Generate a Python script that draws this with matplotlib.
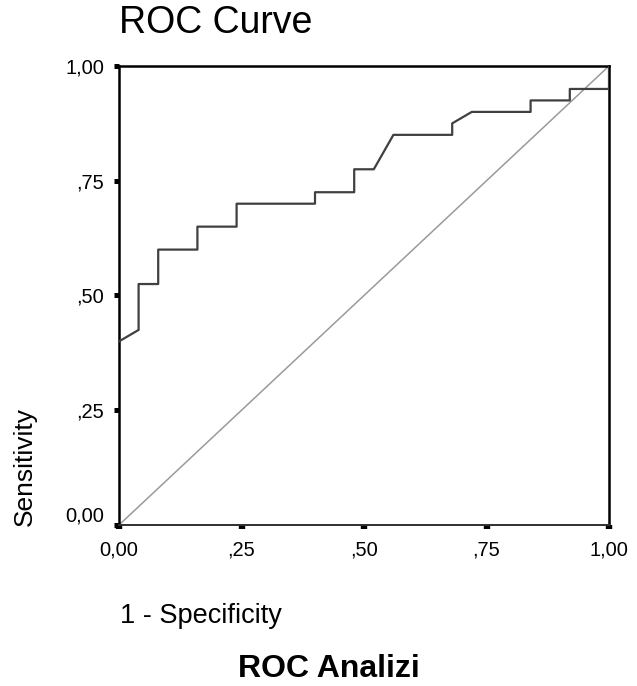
import matplotlib
matplotlib.use("Agg")
import matplotlib.pyplot as plt
from matplotlib.ticker import FixedLocator, FixedFormatter

# ROC curve points (1 - specificity, sensitivity)
fpr = [0.00, 0.04, 0.04, 0.08, 0.08, 0.16, 0.16, 0.24, 0.24, 0.40, 0.40,
       0.48, 0.48, 0.52, 0.56, 0.68, 0.68, 0.72, 0.84, 0.84, 0.92, 0.92,
       1.00, 1.00]
tpr = [0.400, 0.425, 0.525, 0.525, 0.600, 0.600, 0.650, 0.650, 0.700, 0.700, 0.725,
       0.725, 0.775, 0.775, 0.850, 0.850, 0.875, 0.900, 0.900, 0.925, 0.925, 0.950,
       0.950, 1.000]
ref_line = [0.0, 1.0]
tick_vals = [0.0, 0.25, 0.5, 0.75, 1.0]
tick_labels = ["0,00", ",25", ",50", ",75", "1,00"]

plt.rcParams['font.family'] = ['Liberation Sans', 'DejaVu Sans']

W, H = 637, 686
fig = plt.figure(figsize=(W / 100, H / 100), dpi=100)
ax = fig.add_axes([119 / W, 1 - 525 / H, 490 / W, 459 / H])

ax.plot(ref_line, ref_line, color='#9a9a9a', lw=1.1, zorder=2)
ax.plot(fpr, tpr, color='#404040', lw=1.6, zorder=3)

ax.set_xlim(0, 1)
ax.set_ylim(0, 1)
ax.xaxis.set_major_locator(FixedLocator(tick_vals))
ax.xaxis.set_major_formatter(FixedFormatter(tick_labels))
ax.yaxis.set_major_locator(FixedLocator(tick_vals))
ax.yaxis.set_major_formatter(FixedFormatter(tick_labels))
ax.tick_params(axis='both', direction='out', color='black', labelsize=14.5)
ax.tick_params(axis='x', length=3, width=4.6, pad=8.5)
ax.tick_params(axis='y', length=3.6, width=3.6, pad=7)

for s in ['left', 'top', 'right']:
    ax.spines[s].set_color('black')
    ax.spines[s].set_linewidth(1.8)
ax.spines['bottom'].set_color('#303030')
ax.spines['bottom'].set_linewidth(1.4)

# zero label on the y axis sits just above its tick in the reference
ax.get_yticklabels()[0].set_va('bottom')

fig.text(119 / W, 1 - 33 / H, "ROC Curve", fontsize=27, ha='left', va='baseline')
fig.text(25 / W, 1 - 526 / H, "Sensitivity", fontsize=19, rotation=90,
         ha='center', va='bottom')
fig.text(120 / W, 1 - 623 / H, "1 - Specificity", fontsize=19.5, ha='left',
         va='baseline')
fig.text(328.5 / W, 1 - 677 / H, "ROC Analizi", fontsize=23, fontweight='bold',
         ha='center', va='baseline')

fig.savefig("out.png", dpi=100)
